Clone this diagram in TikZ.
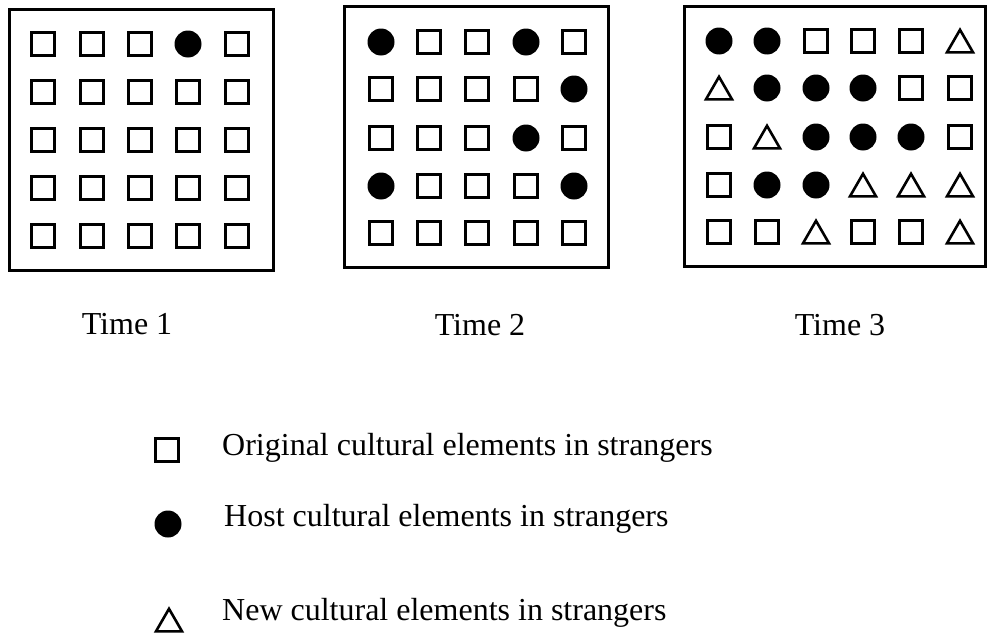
\documentclass[tikz,border=0pt]{standalone}
\usepackage{fontspec}
\setmainfont{Liberation Serif}
\usetikzlibrary{shapes.geometric}
\begin{document}
\begin{tikzpicture}[x=1pt,y=-1pt,
  frame/.style={draw, line width=2.6pt, inner sep=0pt, outer sep=0pt},
  symS/.style={draw, line width=3pt, rectangle, minimum size=22.5pt, inner sep=0pt},
  symC/.style={fill=black, circle, minimum size=27pt, inner sep=0pt},
  symT/.style={draw, line width=2.6pt, regular polygon, regular polygon sides=3, minimum size=30pt, inner sep=0pt, yshift=-3.8pt},
  lbl/.style={inner sep=0pt, font=\fontsize{32}{36}\selectfont}]
\useasboundingbox (0,0) rectangle (989,637);
\fill[white] (0,0) rectangle (989,637);
% frames
\node[frame, minimum width=264.4pt, minimum height=261.4pt] (box1) at (141.5,140) {};
\node[frame, minimum width=264.4pt, minimum height=261.4pt] (box2) at (476.5,137) {};
\node[frame, minimum width=301.4pt, minimum height=260.4pt] (box3) at (835,136.5) {};
% box 1
\foreach \row [count=\r] in {{S,S,S,C,S},{S,S,S,S,S},{S,S,S,S,S},{S,S,S,S,S},{S,S,S,S,S}}{
  \foreach \t [count=\c] in \row {
    \pgfmathsetmacro\xx{{43,92,140,188,237}[\c-1]}
    \pgfmathsetmacro\yy{{44,92,140,188,236}[\r-1]}
    \node[sym\t] (a-\r-\c) at (\xx,\yy) {};
  }
}
% box 2
\foreach \row [count=\r] in {{C,S,S,C,S},{S,S,S,S,C},{S,S,S,C,S},{C,S,S,S,C},{S,S,S,S,S}}{
  \foreach \t [count=\c] in \row {
    \pgfmathsetmacro\xx{{381,429,477,526,574}[\c-1]}
    \pgfmathsetmacro\yy{{42,89,138,186,233}[\r-1]}
    \node[sym\t] (b-\r-\c) at (\xx,\yy) {};
  }
}
% box 3
\foreach \row [count=\r] in {{C,C,S,S,S,T},{T,C,C,C,S,S},{S,T,C,C,C,S},{S,C,C,T,T,T},{S,S,T,S,S,T}}{
  \foreach \t [count=\c] in \row {
    \pgfmathsetmacro\xx{{719,767,816,863,911,960}[\c-1]}
    \pgfmathsetmacro\yy{{41,88,137,185,232}[\r-1]}
    \node[sym\t] (c-\r-\c) at (\xx,\yy) {};
  }
}
% time labels
\node[lbl, anchor=base] (t1) at (127,334) {Time 1};
\node[lbl, anchor=base] (t2) at (480,335) {Time 2};
\node[lbl, anchor=base] (t3) at (840,335) {Time 3};
% legend
\node[symS] (ls) at (167,450) {};
\node[symC] (lc) at (168,524) {};
\node[symT] (lt) at (169,620) {};
\node[lbl, anchor=base west] (lst) at (222,455) {Original cultural elements in strangers};
\node[lbl, anchor=base west] (lct) at (224,526) {Host cultural elements in strangers};
\node[lbl, anchor=base west] (ltt) at (222,620) {New cultural elements in strangers};
\end{tikzpicture}
\end{document}
